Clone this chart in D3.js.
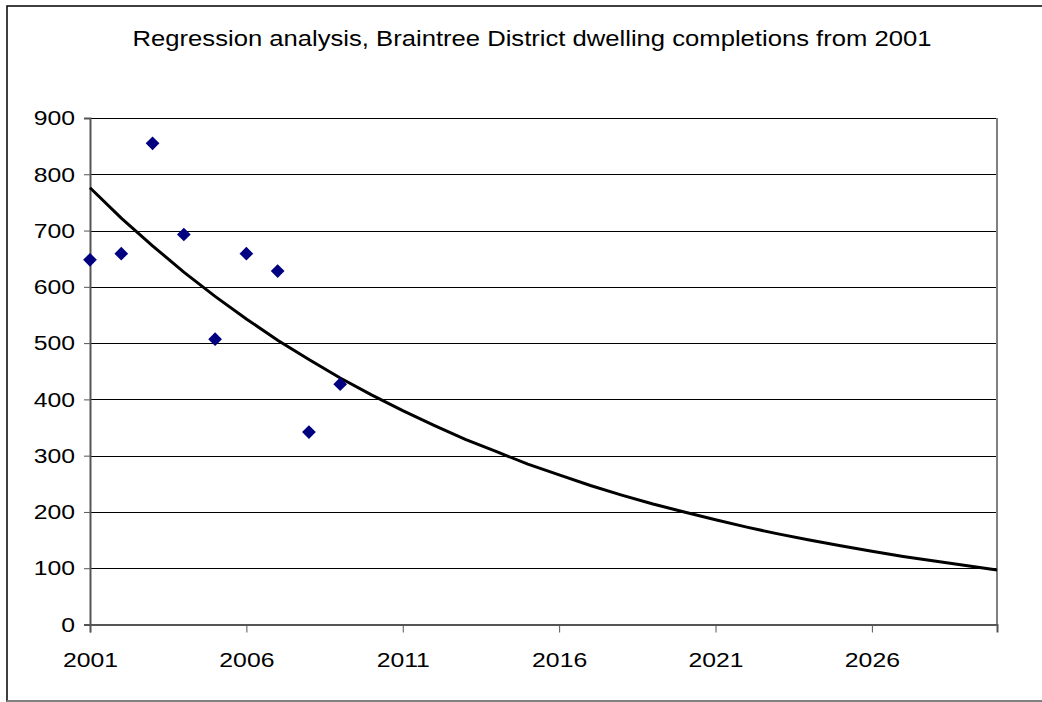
<!DOCTYPE html>
<html><head><meta charset="utf-8">
<script src="https://cdn.jsdelivr.net/npm/d3@7"></script>
<style>body{margin:0;background:#fff}svg{display:block}text{font-family:"Liberation Sans",Arial,sans-serif;fill:#000}</style>
</head><body><svg id="c" width="1042" height="702"></svg>
<script>
const title = "Regression analysis, Braintree District dwelling completions from 2001";
const years = [2001,2002,2003,2004,2005,2006,2007,2008,2009];
const completions = [648,659,855,693,507,659,628,342,427];
const trendYears = [2001,2002,2003,2004,2005,2006,2007,2008,2009,2010,2011,2012,2013,2014,2015,2016,2017,2018,2019,2020,2021,2022,2023,2024,2025,2026,2027,2028,2029,2030];
const trendValues = [776,722,673,626,583,543,505,471,438,408,380,354,329,307,285,266,247,230,214,200,186,173,161,150,140,130,121,113,105,97];
const xTicks = [2001,2006,2011,2016,2021,2026];
const yTicks = [0,100,200,300,400,500,600,700,800,900];

const svg = d3.select("#c");
const L=90,R=997,T=118,B=624.5;
const SX = 1.18;
const x = d3.scaleLinear().domain([2001,2030]).range([L,R]);
const y = d3.scaleLinear().domain([0,900]).range([B,T]);

svg.append("rect").attr("x",7).attr("y",6).attr("width",1045).attr("height",695)
  .attr("fill","#fff").attr("stroke","#000").attr("stroke-width",1.5);
svg.append("line").attr("x1",7).attr("x2",1042).attr("y1",701).attr("y2",701).attr("stroke","#808080").attr("stroke-width",2);

svg.append("text").attr("transform","translate(532,46) scale(1.165,1)").attr("text-anchor","middle")
  .style("font-size","22px").text(title);

// gridlines
svg.append("g").selectAll("line").data(yTicks.filter(d=>d>0)).join("line")
  .attr("x1",L).attr("x2",R).attr("y1",d=>Math.round(y(d))+0.5).attr("y2",d=>Math.round(y(d))+0.5)
  .attr("stroke","#000").attr("stroke-width",1);
// plot frame right
svg.append("line").attr("x1",R).attr("x2",R).attr("y1",T).attr("y2",B).attr("stroke","#808080").attr("stroke-width",2);

// axes
const yAxis = d3.axisLeft(y).tickValues(yTicks).tickSize(6).tickPadding(9).tickFormat(d3.format("d"));
const gy = svg.append("g").attr("transform",`translate(${L},0)`).call(yAxis);
gy.select(".domain").attr("stroke","#555").attr("stroke-width",2);
gy.selectAll(".tick line").attr("stroke","#555");
gy.selectAll("text").style("font-size","21px").attr("fill","#000")
  .attr("x",0).attr("transform",`translate(-15,0) scale(${SX},1)`);

const xAxis = d3.axisBottom(x).tickValues(xTicks).tickSize(8).tickPadding(8).tickFormat(d3.format("d"));
const gx = svg.append("g").attr("transform",`translate(0,${B})`).call(xAxis);
gx.select(".domain").attr("stroke","#555").attr("stroke-width",2);
gx.selectAll(".tick line").attr("stroke","#555");
gx.selectAll("text").style("font-size","21px").attr("fill","#000")
  .attr("y",0).attr("dy",0).attr("transform",`translate(0,${666.5-B}) scale(${SX},1)`);

// trend line
const line = d3.line().x((d,i)=>x(trendYears[i])).y(d=>y(d));
svg.append("path").datum(trendValues).attr("d",line).attr("fill","none")
  .attr("stroke","#000").attr("stroke-width",3);

// points
svg.append("g").selectAll("path").data(completions).join("path")
  .attr("transform",(d,i)=>`translate(${x(years[i])},${y(d)})`)
  .attr("d",d3.symbol().type(d3.symbolDiamond2).size(120))
  .attr("fill","#000080");
</script></body></html>
